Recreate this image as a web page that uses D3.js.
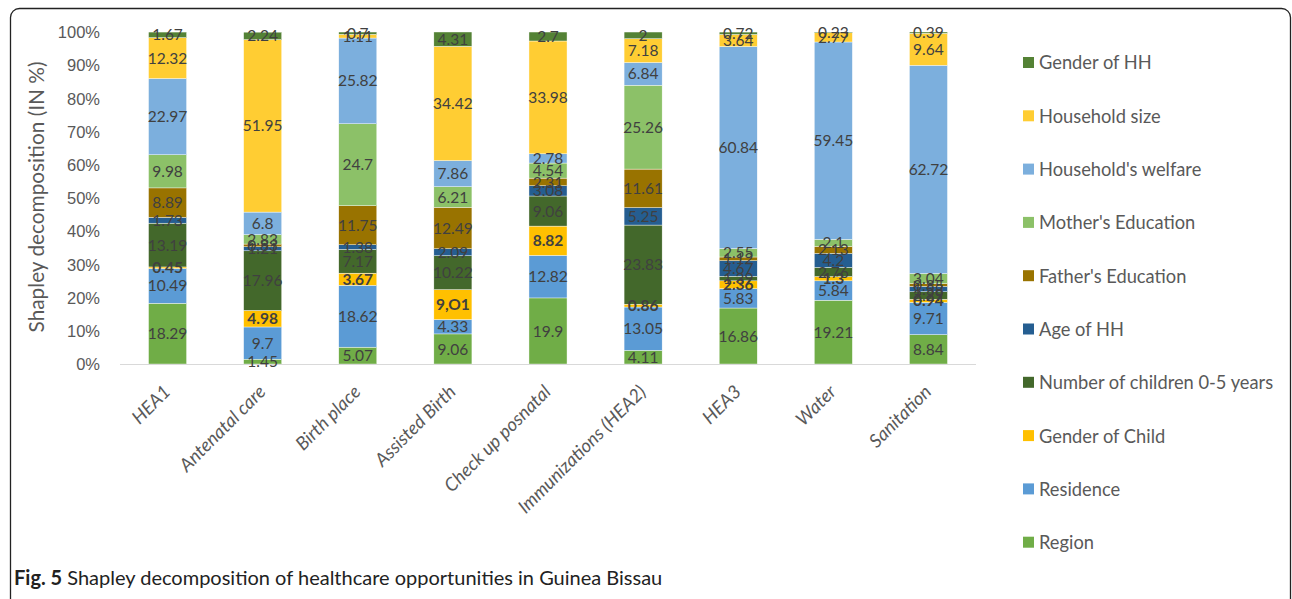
<!DOCTYPE html>
<html>
<head>
<meta charset="utf-8">
<script src="https://cdn.jsdelivr.net/npm/d3@7"></script>
<style>
  body { margin: 0; background: #fff; }
  svg { font-family: Lato, "Open Sans", sans-serif; }
</style>
</head>
<body>
<div id="chart"></div>
<script>
// categories on the x axis
const categories = ["HEA1", "Antenatal care", "Birth place", "Assisted Birth", "Check up posnatal",
  "Immunizations (HEA2)", "HEA3", "Water", "Sanitation"];

// series values, bottom of the stack first
const region        = [18.29, 1.45, 5.07, 9.06, 19.9, 4.11, 16.86, 19.21, 8.84];
const residence     = [10.49, 9.7, 18.62, 4.33, 12.82, 13.05, 5.83, 5.84, 9.71];
const genderChild   = [0.45, 4.98, 3.67, 9.01, 8.82, 0.86, 2.36, 1.3, 0.94];
const nbChildren    = [13.19, 17.96, 7.17, 10.22, 9.06, 23.83, 1.39, 2.76, 2.29];
const ageHH         = [1.73, 1.21, 1.38, 2.09, 3.08, 5.25, 4.67, 4.2, 1.58];
const fatherEdu     = [8.89, 0.83, 11.75, 12.49, 2.31, 11.61, 1.12, 2.13, 0.85];
const motherEdu     = [9.98, 2.83, 24.7, 6.21, 4.54, 25.26, 2.55, 2.1, 3.04];
const welfare       = [22.97, 6.8, 25.82, 7.86, 2.78, 6.84, 60.84, 59.45, 62.72];
const hhSize        = [12.32, 51.95, 1.11, 34.42, 33.98, 7.18, 3.64, 2.77, 9.64];
const genderHH      = [1.67, 2.24, 0.7, 4.31, 2.7, 2, 0.72, 0.23, 0.39];

// printed labels of the Gender of Child series (as written in the figure)
const genderChildLabels = ["0.45", "4.98", "3.67", "9,O1", "8.82", "0.86", "2.36", "1.3", "0.94"];

const yTicks = [0, 10, 20, 30, 40, 50, 60, 70, 80, 90, 100];

const seriesNames = ["Region", "Residence", "Gender of Child", "Number of children 0-5 years",
  "Age of HH", "Father's Education", "Mother's Education", "Household's welfare",
  "Household size", "Gender of HH"];
const seriesValues = [region, residence, genderChild, nbChildren, ageHH, fatherEdu,
  motherEdu, welfare, hhSize, genderHH];
const seriesColors = ["#70AD47", "#5B9BD5", "#FFC000", "#43682B", "#255E91", "#997300",
  "#8CC168", "#7CAFDD", "#FFCD33", "#548235"];

const width = 1292, height = 599;
const margin = {left: 120, right: 316, top: 32, bottom: 235};

let svg = d3.select("#chart").append("svg")
  .attr("width", width)
  .attr("height", height);

// figure frame
svg.append("rect")
  .attr("x", 10.5).attr("y", 8.5)
  .attr("width", 1280).attr("height", 620)
  .attr("rx", 9)
  .attr("fill", "none")
  .attr("stroke", "#222")
  .attr("stroke-width", 1.3);

let rows = categories.map((c, i) => {
  let r = {category: c};
  seriesNames.forEach((s, j) => { r[s] = seriesValues[j][i]; });
  return r;
});

let stack = d3.stack().keys(seriesNames);
let layers = stack(rows);

let x = d3.scaleBand()
  .domain(categories)
  .range([margin.left, width - margin.right])
  .paddingInner(0.6)
  .paddingOuter(0.3);

let y = d3.scaleLinear()
  .domain([0, 100])
  .range([height - margin.bottom, margin.top]);

let color = d3.scaleOrdinal().domain(seriesNames).range(seriesColors);

// y axis (labels only)
let yAxis = svg.append("g")
  .attr("transform", "translate(" + (margin.left - 17) + ",0)")
  .call(d3.axisLeft(y).tickValues(yTicks).tickFormat(d => d + "%").tickSize(0));
yAxis.select(".domain").remove();
yAxis.selectAll("text")
  .attr("fill", "#595959")
  .style("font-size", "16.5px")
  .attr("dy", "0.35em");

svg.append("text")
  .attr("transform", "translate(44,197) rotate(-90)")
  .attr("text-anchor", "middle")
  .attr("fill", "#595959")
  .style("font-size", "20.8px")
  .text("Shapley decomposition (IN %)");

// bars
let groups = svg.append("g").selectAll("g")
  .data(layers)
  .enter().append("g")
  .attr("fill", d => color(d.key));

groups.selectAll("rect")
  .data(d => d)
  .enter().append("rect")
  .attr("x", d => x(d.data.category))
  .attr("width", x.bandwidth())
  .attr("y", d => y(d[1]))
  .attr("height", d => y(d[0]) - y(d[1]))
  .attr("stroke", "#fff")
  .attr("stroke-width", 0.4);

// baseline
svg.append("line")
  .attr("x1", margin.left).attr("x2", width - margin.right)
  .attr("y1", y(0) + 0.5).attr("y2", y(0) + 0.5)
  .attr("stroke", "#d9d9d9");

// data labels
layers.forEach(layer => {
  let bold = layer.key === "Gender of Child";
  svg.append("g").selectAll("text")
    .data(layer)
    .enter().append("text")
    .attr("x", d => x(d.data.category) + x.bandwidth() / 2)
    .attr("y", d => y((d[0] + d[1]) / 2))
    .attr("dy", "0.36em")
    .attr("text-anchor", "middle")
    .attr("fill", "#404040")
    .style("font-size", "15.5px")
    .style("font-weight", bold ? "bold" : "normal")
    .text((d, i) => bold ? genderChildLabels[i] : String(d.data[layer.key]));
});

// x axis labels
svg.append("g").selectAll("text")
  .data(categories)
  .enter().append("text")
  .attr("transform", d => "translate(" + (x(d) + x.bandwidth() / 2 + 4) + "," + (y(0) + 29) + ") rotate(-45)")
  .attr("text-anchor", "end")
  .attr("fill", "#595959")
  .style("font-size", "18.5px")
  .style("font-style", "italic")
  .text(d => d);

// legend, top entry is the top of the stack
let legend = svg.append("g").selectAll("g")
  .data(seriesNames.slice().reverse())
  .enter().append("g")
  .attr("transform", (d, i) => "translate(1023," + (63 + i * 53.3) + ")");

legend.append("rect")
  .attr("x", 0).attr("y", -6)
  .attr("width", 11).attr("height", 11)
  .attr("fill", d => color(d));

legend.append("text")
  .attr("x", 16)
  .attr("dy", "0.35em")
  .attr("fill", "#595959")
  .style("font-size", "18.3px")
  .text(d => d);

// caption
let caption = svg.append("text")
  .attr("x", 14).attr("y", 585)
  .attr("fill", "#222")
  .style("font-size", "20px");
caption.append("tspan").style("font-weight", "bold").text("Fig. 5");
caption.append("tspan").text(" Shapley decomposition of healthcare opportunities in Guinea Bissau");
</script>
</body>
</html>
